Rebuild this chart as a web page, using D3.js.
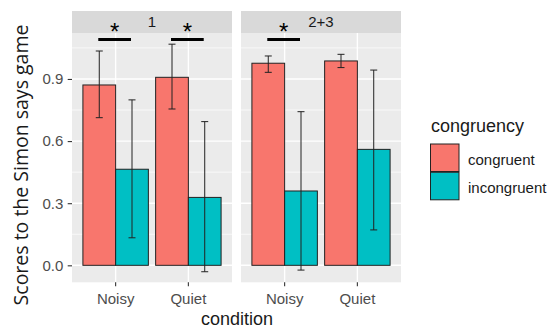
<!DOCTYPE html>
<html><head><meta charset="utf-8">
<script src="https://cdn.jsdelivr.net/npm/d3@7/dist/d3.min.js"></script>
<style>body{margin:0;background:#fff}svg{display:block}</style>
</head><body>
<script>
// ---- data ----
const facets = ["1", "2+3"];
const conditions = ["Noisy", "Quiet"];
const congruency = ["congruent", "incongruent"];
const colors = ["#F8766D", "#00BFC4"];
// per facet, per condition
const congruentMean  = [[0.871, 0.908], [0.976, 0.987]];
const congruentLow   = [[0.713, 0.755], [0.932, 0.955]];
const congruentHigh  = [[1.035, 1.068], [1.011, 1.019]];
const incongruentMean = [[0.464, 0.328], [0.359, 0.560]];
const incongruentLow  = [[0.133, -0.031], [-0.023, 0.171]];
const incongruentHigh = [[0.799, 0.694], [0.742, 0.943]];
const yTicks = [0.0, 0.3, 0.6, 0.9];
const yMinor = [0.15, 0.45, 0.75, 1.05];
const sigFacet = ["1", "1", "2+3"];
const sigCondition = ["Noisy", "Quiet", "Noisy"];
const sigY = [1.091, 1.091, 1.091];
const sigLabel = ["*", "*", "*"];

const W = 552, H = 331;
const svg = d3.select("body").append("svg").attr("width", W).attr("height", H);
const font = "'Liberation Sans', Arial, sans-serif";

const panelX = [[72, 232], [241, 401]];
const panelTop = 33, panelBottom = 282.3, stripTop = 11;

const y = d3.scaleLinear().domain([-0.082, 1.122]).range([panelBottom, panelTop]);

const rows = [];
facets.forEach((f, fi) => conditions.forEach((c, ci) => {
  rows.push({facet: f, cond: c, grp: "congruent", mean: congruentMean[fi][ci], lo: congruentLow[fi][ci], hi: congruentHigh[fi][ci]});
  rows.push({facet: f, cond: c, grp: "incongruent", mean: incongruentMean[fi][ci], lo: incongruentLow[fi][ci], hi: incongruentHigh[fi][ci]});
}));
const color = d3.scaleOrdinal().domain(congruency).range(colors);

const xScales = {};
facets.forEach((f, fi) => {
  const [x0, x1] = panelX[fi];
  const x = d3.scaleBand().domain(conditions).range([x0, x1]).paddingInner(0.1).paddingOuter(0.15);
  const xs = d3.scaleBand().domain(congruency).range([0, x.bandwidth()]);
  xScales[f] = {x, xs};
  const g = svg.append("g");
  // panel bg
  g.append("rect").attr("x", x0).attr("y", panelTop).attr("width", x1 - x0).attr("height", panelBottom - panelTop).attr("fill", "#EBEBEB");
  // strip
  g.append("rect").attr("x", x0).attr("y", stripTop).attr("width", x1 - x0).attr("height", panelTop - stripTop).attr("fill", "#D9D9D9");
  g.append("text").attr("x", (x0 + x1) / 2).attr("y", 27).attr("text-anchor", "middle")
    .attr("font-family", font).attr("font-size", 15).attr("fill", "#1A1A1A").text(f);
  // grid
  g.selectAll(".mn").data(yMinor).join("line").attr("x1", x0).attr("x2", x1)
    .attr("y1", d => y(d)).attr("y2", d => y(d)).attr("stroke", "#fff").attr("stroke-width", 0.7);
  g.selectAll(".mj").data(yTicks).join("line").attr("x1", x0).attr("x2", x1)
    .attr("y1", d => y(d)).attr("y2", d => y(d)).attr("stroke", "#fff").attr("stroke-width", 1.4);
  g.selectAll(".vx").data(conditions).join("line").attr("y1", panelTop).attr("y2", panelBottom)
    .attr("x1", d => x(d) + x.bandwidth() / 2).attr("x2", d => x(d) + x.bandwidth() / 2)
    .attr("stroke", "#fff").attr("stroke-width", 1.4);
  const data = rows.filter(r => r.facet === f);
  // bars
  g.selectAll(".bar").data(data).join("rect")
    .attr("x", d => x(d.cond) + xs(d.grp)).attr("width", xs.bandwidth())
    .attr("y", d => y(d.mean)).attr("height", d => y(0) - y(d.mean))
    .attr("fill", d => color(d.grp)).attr("stroke", "#222").attr("stroke-width", 1);
  // error bars
  const ew = 3.5;
  data.forEach(d => {
    const cx = x(d.cond) + xs(d.grp) + xs.bandwidth() / 2;
    g.append("line").attr("x1", cx).attr("x2", cx).attr("y1", y(d.lo)).attr("y2", y(d.hi)).attr("stroke", "#222").attr("stroke-width", 1);
    [d.lo, d.hi].forEach(v => g.append("line").attr("x1", cx - ew).attr("x2", cx + ew).attr("y1", y(v)).attr("y2", y(v)).attr("stroke", "#222").attr("stroke-width", 1));
  });
  // x axis
  const ax = svg.append("g").attr("transform", `translate(0,${panelBottom})`)
    .call(d3.axisBottom(x).tickSize(4).tickPadding(7.5));
  ax.select(".domain").remove();
  ax.selectAll(".tick line").attr("stroke", "#333").attr("stroke-width", 1.1);
  ax.selectAll(".tick text").attr("font-family", font).attr("font-size", 15).attr("fill", "#4D4D4D");
});

// significance annotations
sigFacet.forEach((f, i) => {
  const {x} = xScales[f];
  const cx = x(sigCondition[i]) + x.bandwidth() / 2 - 1;
  const half = x.step() * 0.225;
  svg.append("line").attr("x1", cx - half).attr("x2", cx + half).attr("y1", y(sigY[i])).attr("y2", y(sigY[i]))
    .attr("stroke", "#000").attr("stroke-width", 3);
  svg.append("text").attr("x", cx).attr("y", y(sigY[i]) + 0.5).attr("text-anchor", "middle")
    .attr("font-family", font).attr("font-size", 24).attr("fill", "#000").text(sigLabel[i]);
});

// y axis
const ay = svg.append("g").attr("transform", `translate(${panelX[0][0]},0)`)
  .call(d3.axisLeft(y).tickValues(yTicks).tickFormat(d3.format(".1f")).tickSize(4.3).tickPadding(4.4));
ay.select(".domain").remove();
ay.selectAll(".tick line").attr("stroke", "#333").attr("stroke-width", 1.1);
ay.selectAll(".tick text").attr("font-family", font).attr("font-size", 15).attr("fill", "#4D4D4D");

// axis titles
svg.append("text").attr("transform", "translate(27.5,165) rotate(-90)").attr("text-anchor", "middle")
  .attr("font-family", "'Open Sans', sans-serif").attr("font-size", 19.5).attr("fill", "#1A1A1A")
  .text("Scores to the Simon says game");
svg.append("text").attr("x", 237).attr("y", 325).attr("text-anchor", "middle")
  .attr("font-family", font).attr("font-size", 18).attr("fill", "#1A1A1A").text("condition");

// legend
const lg = svg.append("g");
lg.append("text").attr("x", 431).attr("y", 132).attr("font-family", font).attr("font-size", 18).attr("fill", "#1A1A1A").text("congruency");
congruency.forEach((c, i) => {
  lg.append("rect").attr("x", 430.5).attr("y", 144 + i * 28.3).attr("width", 28.5).attr("height", 27.5)
    .attr("fill", color(c)).attr("stroke", "#222").attr("stroke-width", 1);
  lg.append("text").attr("x", 468).attr("y", 164.5 + i * 28.3).attr("font-family", font).attr("font-size", 15).attr("fill", "#1A1A1A").text(c);
});
</script>
</body></html>
